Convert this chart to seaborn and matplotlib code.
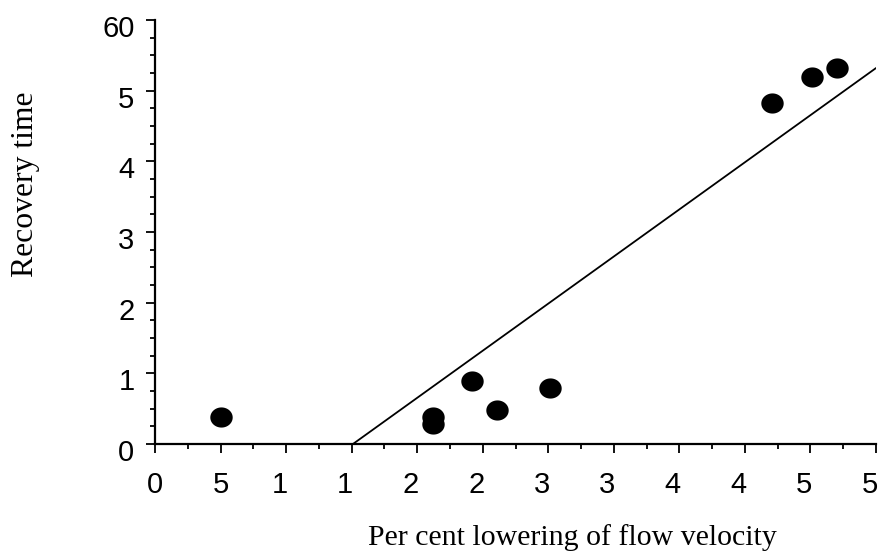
import numpy as np
import pandas as pd
import matplotlib
matplotlib.use("Agg")
import matplotlib.pyplot as plt
import matplotlib.transforms as mtransforms
from matplotlib.ticker import MultipleLocator, FixedLocator
import seaborn as sns

# Data
lowering = [5.0, 21.2, 21.2, 24.2, 26.1, 30.1, 47.1, 50.1, 52.0]
recovery = [3.8, 3.8, 2.8, 8.9, 4.8, 7.9, 48.3, 51.9, 53.2]
fit_x = [15.1, 55.0]
fit_y = [0.0, 53.2]
x_tick_values = [0, 5, 10, 15, 20, 25, 30, 35, 40, 45, 50, 55]
x_tick_labels = ["0", "5", "1", "1", "2", "2", "3", "3", "4", "4", "5", "5"]
y_tick_values = [0, 10, 20, 30, 40, 50, 60]
y_tick_labels = ["0", "1", "2", "3", "4", "5", "60"]

pts = pd.DataFrame({"x": lowering, "y": recovery})
fit = pd.DataFrame({"x": fit_x, "y": fit_y})

sns.set_style("ticks")
plt.rcParams["font.family"] = ["Liberation Sans", "DejaVu Sans"]

W, H = 882, 555
L, R, T, B = 155, 876, 20, 444
fig = plt.figure(figsize=(W / 100, H / 100), dpi=100)
ax = fig.add_axes([L / W, 1 - B / H, (R - L) / W, (B - T) / H])

# elliptical marker (slightly wider than tall)
t = np.linspace(0, 2 * np.pi, 60)
ell = np.column_stack([np.cos(t), 0.9 * np.sin(t)])

sns.lineplot(data=fit, x="x", y="y", ax=ax, color="black", linewidth=1.3)
sns.scatterplot(data=pts, x="x", y="y", ax=ax, marker=ell, s=260,
                color="black", edgecolor="black", linewidth=0, zorder=3)

ax.set_xlim(0, 55)
ax.set_ylim(0, 60)
ax.xaxis.set_major_locator(FixedLocator(x_tick_values))
ax.set_xticklabels(x_tick_labels)
ax.yaxis.set_major_locator(FixedLocator(y_tick_values))
ax.set_yticklabels(y_tick_labels)
ax.xaxis.set_minor_locator(MultipleLocator(2.5))
ax.yaxis.set_minor_locator(MultipleLocator(2.5))

for s in ["top", "right"]:
    ax.spines[s].set_visible(False)
for s in ["left", "bottom"]:
    ax.spines[s].set_linewidth(1.6)
    ax.spines[s].set_color("black")

ax.tick_params(axis="both", which="major", length=6.8, width=1.3, color="black",
               labelsize=21, labelcolor="black", direction="out")
ax.tick_params(axis="x", which="major", pad=12.5)
ax.tick_params(axis="y", which="major", pad=8)
ax.tick_params(axis="both", which="minor", length=3.8, width=1.3, color="black", direction="out")

# label placement tweaks: two-digit labels were truncated, so the digit sits left of the tick;
# y labels sit slightly below their ticks
for val, lab in zip(x_tick_values, ax.get_xticklabels()):
    if val >= 10:
        off = mtransforms.ScaledTranslation(-6.5 / 100, 0, fig.dpi_scale_trans)
        lab.set_transform(lab.get_transform() + off)
for lab in ax.get_yticklabels():
    off = mtransforms.ScaledTranslation(0, -6 / 100, fig.dpi_scale_trans)
    lab.set_transform(lab.get_transform() + off)

ax.set_xlabel("Per cent lowering of flow velocity", fontsize=21.5,
              fontfamily="Liberation Serif", color="black")
ax.set_ylabel("Recovery time", fontsize=22.8,
              fontfamily="Liberation Serif", color="black")
ax.xaxis.set_label_coords((572 - L) / (R - L), -(538 - B) / (B - T), transform=ax.transAxes)
ax.xaxis.label.set_va("center")
ax.yaxis.set_label_coords(-(L - 26) / (R - L), (B - 184.5) / (B - T), transform=ax.transAxes)
ax.yaxis.label.set_va("center")

ax.set_facecolor("white")
fig.patch.set_facecolor("white")
fig.savefig("out.png", dpi=100)
